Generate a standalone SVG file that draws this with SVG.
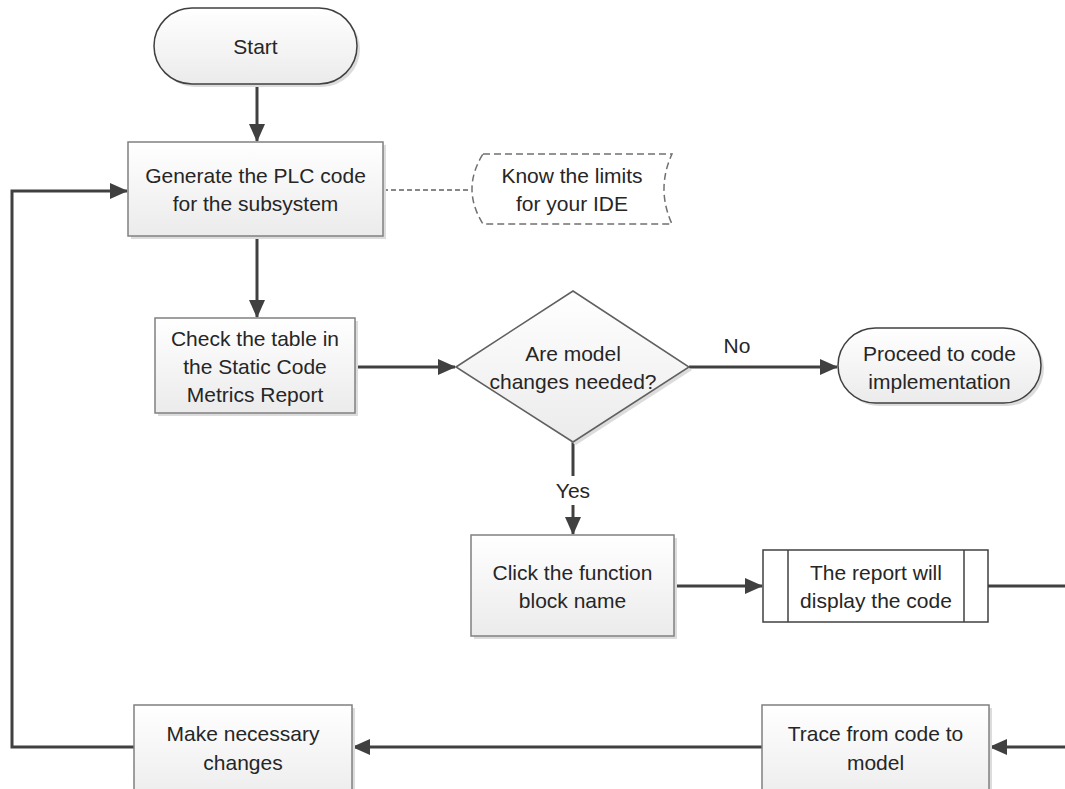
<svg xmlns="http://www.w3.org/2000/svg" width="1065" height="789" viewBox="0 0 1065 789">
<defs>
<linearGradient id="g" x1="0" y1="0" x2="0" y2="1">
<stop offset="0" stop-color="#ffffff"/>
<stop offset="1" stop-color="#ebebeb"/>
</linearGradient>
<marker id="ah" markerUnits="userSpaceOnUse" markerWidth="18" markerHeight="16" refX="17" refY="8" orient="auto">
<path d="M0,0 L18,8 L0,16 Z" fill="#404040"/>
</marker>
</defs>
<style>
.box{fill:url(#g);stroke:#808080;stroke-width:1.5}
.term{fill:url(#g);stroke:#404040;stroke-width:1.5}
.sh{fill:#dcdcdc}
.t{font-family:"Liberation Sans",Arial,sans-serif;font-size:21px;fill:#262626;text-anchor:middle;dominant-baseline:central}
.c{fill:none;stroke:#404040;stroke-width:3}
</style>
<rect width="1065" height="789" fill="#ffffff"/>
<g id="connectors">
<line class="c" x1="257" y1="84" x2="257" y2="141" marker-end="url(#ah)"/>
<line class="c" x1="257" y1="236" x2="257" y2="317" marker-end="url(#ah)"/>
<line x1="383" y1="190" x2="471" y2="190" stroke="#606060" stroke-width="1.3" stroke-dasharray="5,3"/>
<line class="c" x1="355" y1="367" x2="455" y2="367" marker-end="url(#ah)"/>
<line class="c" x1="689" y1="367" x2="837" y2="367" marker-end="url(#ah)"/>
<line class="c" x1="573" y1="442" x2="573" y2="476"/>
<line class="c" x1="573" y1="505" x2="573" y2="534" marker-end="url(#ah)"/>
<line class="c" x1="674" y1="586" x2="762" y2="586" marker-end="url(#ah)"/>
<line class="c" x1="988" y1="586" x2="1065" y2="586"/>
<line class="c" x1="1065" y1="747" x2="990" y2="747" marker-end="url(#ah)"/>
<line class="c" x1="762" y1="747" x2="353" y2="747" marker-end="url(#ah)"/>
<polyline class="c" points="134,747 12,747 12,191 127,191" marker-end="url(#ah)"/>
<text class="t" x="737" y="345">No</text>
<text class="t" x="573" y="490">Yes</text>
</g>
<g id="start">
<rect x="157" y="11" width="203" height="76" rx="38" class="sh"/>
<rect x="154" y="8" width="203" height="76" rx="38" class="term"/>
<text class="t" x="255.5" y="46">Start</text>
</g>
<g id="generate">
<rect x="131" y="145" width="255" height="94" class="sh"/>
<rect x="128" y="142" width="255" height="94" class="box"/>
<text class="t" x="255.5" y="175">Generate the PLC code</text>
<text class="t" x="255.5" y="203">for the subsystem</text>
</g>
<g id="note">
<path d="M483,154 L672,154 Q656,189 672,224 L483,224 Q461,189 483,154 Z" fill="#ffffff" stroke="#707070" stroke-width="1.5" stroke-dasharray="7,4"/>
<text class="t" x="572" y="175">Know the limits</text>
<text class="t" x="572" y="203">for your IDE</text>
</g>
<g id="check">
<rect x="158" y="321" width="200" height="95" class="sh"/>
<rect x="155" y="318" width="200" height="95" class="box"/>
<text class="t" x="255" y="338">Check the table in</text>
<text class="t" x="255" y="366">the Static Code</text>
<text class="t" x="255" y="394">Metrics Report</text>
</g>
<g id="decision">
<polygon points="459,370 576,294 692,370 576,445" class="sh"/>
<polygon points="456,367 573,291 689,367 573,442" fill="url(#g)" stroke="#606060" stroke-width="1.5"/>
<text class="t" x="573" y="353">Are model</text>
<text class="t" x="573" y="381">changes needed?</text>
</g>
<g id="proceed">
<rect x="841" y="331" width="203" height="75" rx="37.5" class="sh"/>
<rect x="838" y="328" width="203" height="75" rx="37.5" class="term"/>
<text class="t" x="939.5" y="353">Proceed to code</text>
<text class="t" x="939.5" y="381">implementation</text>
</g>
<g id="click">
<rect x="474" y="538" width="203" height="101" class="sh"/>
<rect x="471" y="535" width="203" height="101" class="box"/>
<text class="t" x="572.5" y="572">Click the function</text>
<text class="t" x="572.5" y="600">block name</text>
</g>
<g id="report">
<rect x="763" y="550" width="225" height="72" fill="#ffffff" stroke="#404040" stroke-width="1.5"/>
<line x1="788" y1="550" x2="788" y2="622" stroke="#404040" stroke-width="1.5"/>
<line x1="964" y1="550" x2="964" y2="622" stroke="#404040" stroke-width="1.5"/>
<text class="t" x="876" y="572">The report will</text>
<text class="t" x="876" y="600">display the code</text>
</g>
<g id="trace">
<rect x="765" y="708" width="227" height="100" class="sh"/>
<rect x="762" y="705" width="227" height="100" class="box"/>
<text class="t" x="875.5" y="733">Trace from code to</text>
<text class="t" x="875.5" y="762">model</text>
</g>
<g id="make">
<rect x="137" y="708" width="218" height="100" class="sh"/>
<rect x="134" y="705" width="218" height="100" class="box"/>
<text class="t" x="243" y="733">Make necessary</text>
<text class="t" x="243" y="762">changes</text>
</g>
</svg>
